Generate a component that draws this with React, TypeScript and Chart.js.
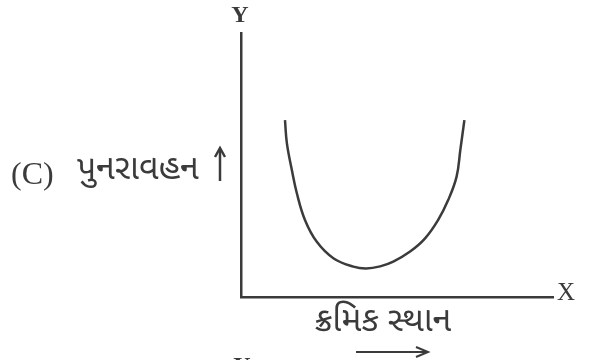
import React, { useEffect, useRef } from "react";
import { Chart, registerables } from "chart.js";

Chart.register(...registerables);

// Sequential position (x) and recombination frequency (y), arbitrary units
const curveX: number[] = [1.41, 1.47, 1.63, 1.79, 2.05, 2.43, 2.96, 3.6, 4.01, 4.46, 4.88, 5.42, 5.9, 6.32, 6.64, 6.91, 7.03, 7.16];
const curveY: number[] = [6.7, 5.83, 4.81, 3.93, 2.92, 2.09, 1.47, 1.15, 1.08, 1.16, 1.34, 1.72, 2.22, 2.92, 3.67, 4.56, 5.57, 6.7];

const yAxisLetter = "Y";
const xAxisLetter = "X";
const partLabel = "(C)";
const yAxisTitle = "પુનરાવહન";
const xAxisTitle = "ક્રમિક સ્થાન";

const INK = "#3b3b3b";
const SERIF = "'Liberation Serif', 'DejaVu Serif', serif";
const GUJ = "'Noto Sans Gujarati', 'Lohit Gujarati', 'Shruti', 'Noto Sans', sans-serif";

const textPlugin = {
  id: "figureText",
  afterDatasetsDraw(chart: any) {
    const { ctx, chartArea } = chart;
    const { left, top, right, bottom } = chartArea;
    ctx.save();
    ctx.fillStyle = INK;
    ctx.textBaseline = "middle";

    // Y letter above y axis
    ctx.font = `bold 24px ${SERIF}`;
    ctx.textAlign = "center";
    ctx.fillText(yAxisLetter, left - 1, top - 17);

    // X letter at end of x axis
    ctx.font = `25px ${SERIF}`;
    ctx.textAlign = "left";
    ctx.fillText(xAxisLetter, right + 4, bottom - 4);

    // (C) label and Gujarati y title
    ctx.font = `32px ${SERIF}`;
    ctx.textAlign = "left";
    ctx.fillText(partLabel, 11, 176);
    ctx.font = `34px ${GUJ}`;
    ctx.fillText(yAxisTitle, 77, 173);

    // up arrow next to y title
    const ax = left - 21;
    ctx.strokeStyle = INK;
    ctx.lineWidth = 2.5;
    ctx.beginPath();
    ctx.moveTo(ax, 181);
    ctx.lineTo(ax, 150);
    ctx.stroke();
    ctx.beginPath();
    ctx.moveTo(ax - 5, 157);
    ctx.lineTo(ax, 148);
    ctx.lineTo(ax + 5, 157);
    ctx.stroke();

    // x title below axis
    ctx.font = `34px ${GUJ}`;
    ctx.textAlign = "center";
    ctx.fillText(xAxisTitle, 383, bottom + 28);

    // right arrow below x title
    ctx.lineWidth = 2;
    ctx.beginPath();
    ctx.moveTo(356, bottom + 55);
    ctx.lineTo(427, bottom + 55);
    ctx.stroke();
    ctx.beginPath();
    ctx.moveTo(416, bottom + 50);
    ctx.lineTo(428, bottom + 55);
    ctx.lineTo(416, bottom + 60);
    ctx.stroke();

    // clipped letter of the next figure at the bottom edge
    ctx.font = `bold 24px ${SERIF}`;
    ctx.textAlign = "center";
    ctx.textBaseline = "top";
    ctx.fillText(yAxisLetter, left + 1, bottom + 58);

    ctx.restore();
  },
};

export default function App() {
  const ref = useRef<HTMLCanvasElement | null>(null);

  useEffect(() => {
    if (!ref.current) return;
    const points = curveX.map((x, i) => ({ x, y: curveY[i] }));
    const chart = new Chart(ref.current, {
      type: "scatter",
      data: {
        datasets: [
          {
            data: points,
            showLine: true,
            borderColor: INK,
            borderWidth: 2.5,
            pointRadius: 0,
            tension: 0.4,
            fill: false,
          } as any,
        ],
      },
      options: {
        responsive: false,
        animation: false,
        events: [],
        layout: { padding: { left: 241, top: 33, right: 36, bottom: 63 } },
        plugins: { legend: { display: false }, tooltip: { enabled: false } },
        scales: {
          x: {
            type: "linear",
            min: 0,
            max: 10,
            ticks: { display: false },
            grid: { display: false, drawTicks: false, tickLength: 0 },
            border: { display: true, color: INK, width: 2.5 },
          },
          y: {
            type: "linear",
            min: 0,
            max: 10,
            ticks: { display: false },
            grid: { display: false, drawTicks: false, tickLength: 0 },
            border: { display: true, color: INK, width: 2.5 },
          },
        },
      },
      plugins: [textPlugin],
    });
    return () => chart.destroy();
  }, []);

  return (
    <div style={{ position: "fixed", left: 0, top: 0, width: 589, height: 360, background: "#fff" }}>
      <canvas ref={ref} width={589} height={360} style={{ display: "block" }} />
    </div>
  );
}
